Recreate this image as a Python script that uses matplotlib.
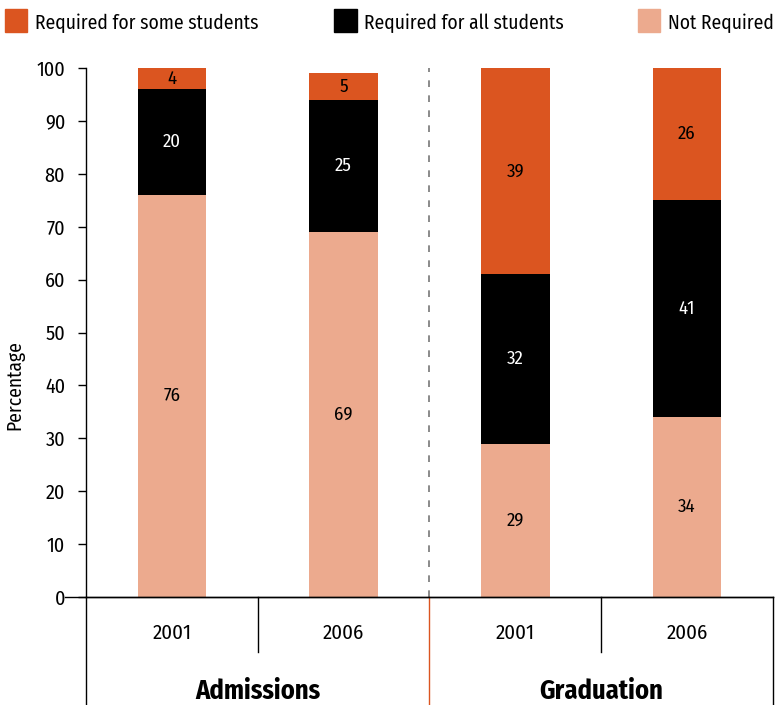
import matplotlib
matplotlib.use("Agg")
import matplotlib.pyplot as plt
from matplotlib.patches import Rectangle

plt.rcParams['font.family'] = ['Fira Sans Condensed', 'PT Sans Narrow',
                               'Roboto Condensed', 'Open Sans', 'DejaVu Sans']

years = ["2001", "2006", "2001", "2006"]
groups = ["Admissions", "Graduation"]
not_required = [76, 69, 29, 34]
required_all = [20, 25, 32, 41]
required_some = [4, 5, 39, 26]

c_some = "#DB5520"
c_all = "#000000"
c_not = "#ECAA8E"

fig = plt.figure(figsize=(7.75, 7.05), dpi=100)
ax = fig.add_axes([0.111, 0.153, 0.886, 0.7505])

x = list(range(len(years)))
w = 0.4
ax.bar(x, not_required, w, color=c_not)
bottom2 = not_required
ax.bar(x, required_all, w, bottom=bottom2, color=c_all)
bottom3 = [a + b for a, b in zip(not_required, required_all)]
ax.bar(x, required_some, w, bottom=bottom3, color=c_some)

for i in x:
    ax.text(i, not_required[i] / 2, str(not_required[i]), ha="center", va="center",
            fontsize=13.5, color="black")
    ax.text(i, bottom2[i] + required_all[i] / 2, str(required_all[i]), ha="center",
            va="center", fontsize=13.5, color="white")
    top = min(bottom3[i] + required_some[i], 100)
    ax.text(i, (bottom3[i] + top) / 2, str(required_some[i]), ha="center",
            va="center", fontsize=13.5, color="black")

ax.set_xlim(-0.5, 3.5)
ax.set_ylim(0, 100)
ax.set_yticks(range(0, 101, 10))
ax.tick_params(axis="y", labelsize=14.5, length=6, direction="out", width=1, pad=9)
ax.set_xticks([])
for s in ["top", "right"]:
    ax.spines[s].set_visible(False)
ax.spines["left"].set_linewidth(1)
ax.spines["bottom"].set_linewidth(1)
ax.set_ylabel("Percentage", fontsize=14)
ax.yaxis.set_label_coords(-0.09, 0.40)

# dashed divider between the two groups
ax.axvline(1.5, color="#777777", linestyle=(0, (4, 5)), linewidth=1.2)

# category table below the axis
tr = ax.get_xaxis_transform()
ax.plot([-0.5, -0.5], [0, -0.204], transform=tr, color="black", lw=1, clip_on=False)
ax.plot([3.5, 3.5], [0, -0.204], transform=tr, color="black", lw=1, clip_on=False)
ax.plot([1.5, 1.5], [0, -0.204], transform=tr, color=c_some, lw=1, clip_on=False)
for xv in [0.5, 2.5]:
    ax.plot([xv, xv], [0, -0.104], transform=tr, color="black", lw=1, clip_on=False)
ax.plot([-0.62, 3.5], [0, 0], transform=tr, color="black", lw=1, clip_on=False)
for i, yr in zip(x, years):
    ax.text(i, -0.068, yr, transform=tr, ha="center", va="center", fontsize=15)
for gx, g in zip([0.5, 2.5], groups):
    ax.text(gx, -0.178, g, transform=tr, ha="center", va="center", fontsize=19,
            fontweight="bold")

# legend entries placed at fixed figure positions across the top
legend_items = [(c_some, "Required for some students", 0.006),
                (c_all, "Required for all students", 0.431),
                (c_not, "Not Required", 0.823)]
for col, lab, fx in legend_items:
    fig.patches.append(Rectangle((fx, 0.955), 0.029, 0.032,
                                 transform=fig.transFigure, color=col))
    fig.text(fx + 0.039, 0.967, lab, fontsize=14, va="center", ha="left")

fig.savefig("out.png", dpi=100)
